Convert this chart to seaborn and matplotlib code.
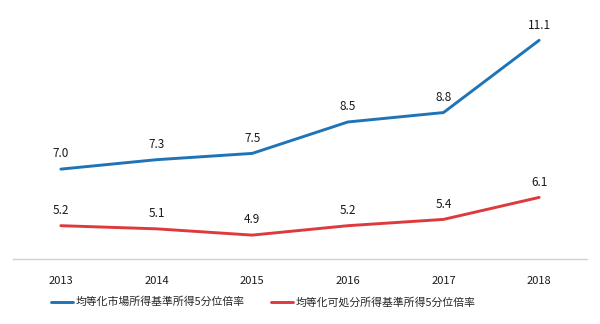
import matplotlib
matplotlib.use("Agg")
import matplotlib.pyplot as plt
import seaborn as sns
import pandas as pd

years = ["2013", "2014", "2015", "2016", "2017", "2018"]
market = [7.0, 7.3, 7.5, 8.5, 8.8, 11.1]
disposable = [5.2, 5.1, 4.9, 5.2, 5.4, 6.1]
series_names = ["均等化市場所得基準所得5分位倍率", "均等化可処分所得基準所得5分位倍率"]
colors = ["#1F74B8", "#DE3A3D"]

sns.set_theme(style="white")
plt.rcParams['font.family'] = ['Noto Sans CJK JP', 'DejaVu Sans']

rows = []
for name, vals in zip(series_names, [market, disposable]):
    for i, (y, v) in enumerate(zip(years, vals)):
        rows.append({"idx": i, "year": y, "value": v, "series": name})
df = pd.DataFrame(rows)

fig = plt.figure(figsize=(6.0, 3.24), dpi=100)
ax = fig.add_axes([13/600, (324-259)/324, 574/600, (259-12)/324])

sns.lineplot(data=df, x="idx", y="value", hue="series", hue_order=series_names,
             palette=colors, linewidth=2.1, ax=ax, legend=True)

for name, vals in zip(series_names, [market, disposable]):
    for i, v in enumerate(vals):
        ax.annotate(f"{v:.1f}", (i, v), xytext=(0, 11), textcoords="offset points",
                    ha="center", va="center", fontsize=8.5, color="#1a1a1a")

ax.set_xlim(-0.5, len(years) - 0.5)
ax.set_ylim(4.14, 12.0)
ax.set_xticks(range(len(years)))
ax.set_xticklabels(years, fontsize=8, color="#1a1a1a")
ax.set_yticks([])
ax.set_xlabel("")
ax.set_ylabel("")
ax.tick_params(axis="x", length=0, pad=12)
for s in ["top", "right", "left"]:
    ax.spines[s].set_visible(False)
ax.spines["bottom"].set_color("#D0D0D0")
ax.spines["bottom"].set_linewidth(1.0)

handles, labels = ax.get_legend_handles_labels()
ax.legend_.remove()
fig.legend(handles, labels, loc="center", bbox_to_anchor=(263/600, 1 - 302/324),
           ncol=2, frameon=False, fontsize=7.8, handlelength=2.1,
           handletextpad=0.2, columnspacing=2.4)

fig.savefig("out.png", dpi=100, facecolor="white")
